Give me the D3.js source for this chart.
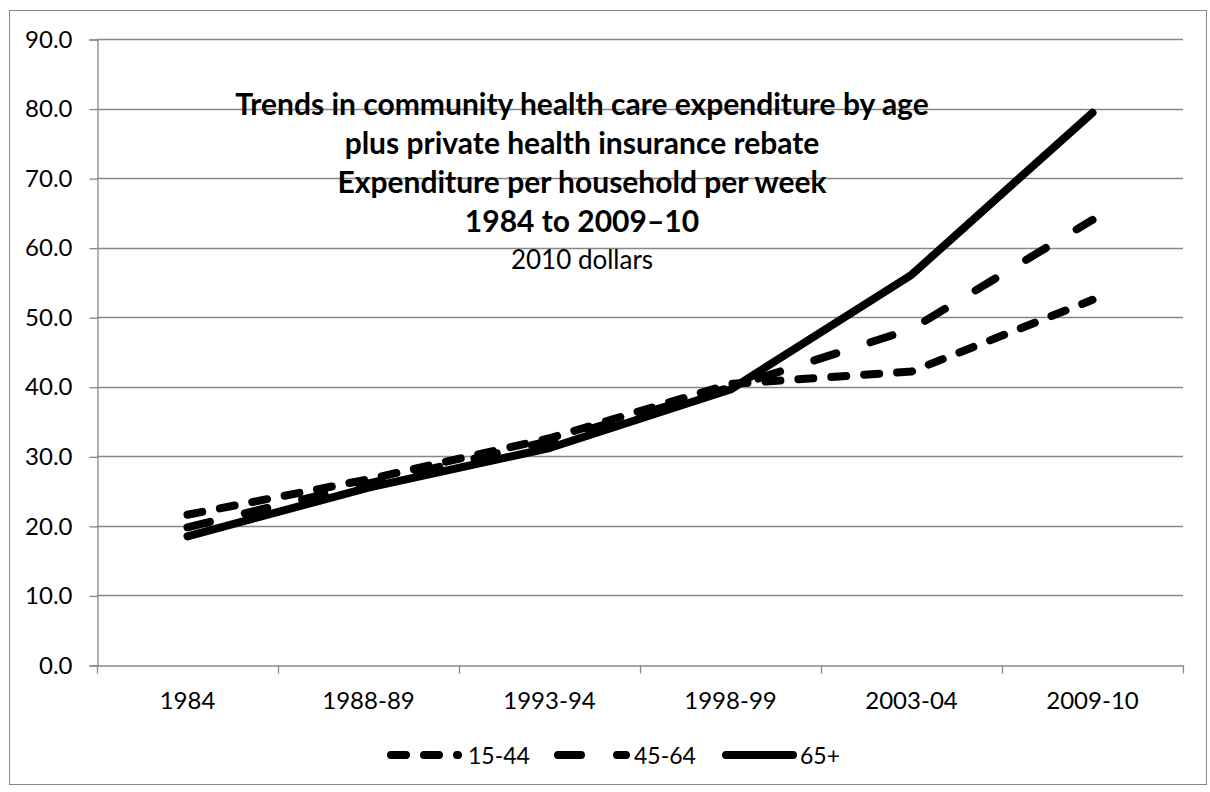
<!DOCTYPE html>
<html>
<head>
<meta charset="utf-8">
<script src="https://cdn.jsdelivr.net/npm/d3@7/dist/d3.min.js"></script>
<style>
  html, body { margin: 0; padding: 0; background: #fff; }
  svg { display: block; }
  text { font-family: Lato, "Open Sans", sans-serif; fill: #000; }
</style>
</head>
<body>
<svg id="chart" width="1210" height="792"></svg>
<script>
// Survey periods
const periods = ["1984", "1988-89", "1993-94", "1998-99", "2003-04", "2009-10"];

// Community health care expenditure per household per week (2010 dollars)
const age15to44 = [21.6, 26.7, 32.6, 40.4, 42.2, 52.5];
const age45to64 = [19.8, 26.1, 32.2, 39.9, 48.3, 64.0];
const age65plus = [18.5, 25.5, 31.2, 39.6, 56.1, 79.4];

const seriesNames = ["15-44", "45-64", "65+"];
const yTicks = [0, 10, 20, 30, 40, 50, 60, 70, 80, 90];

const titleLines = [
  "Trends in community health care expenditure by age",
  "plus private health insurance rebate",
  "Expenditure per household per week",
  "1984 to 2009\u201310"
];
const subtitle = "2010 dollars";

const series = [
  { name: seriesNames[0], values: age15to44, dash: "15,18" },
  { name: seriesNames[1], values: age45to64, dash: "23,36" },
  { name: seriesNames[2], values: age65plus, dash: null }
];

const svg = d3.select("#chart");
const gridColor = "#878787";
const labelFont = "Lato, 'Open Sans', sans-serif";

// chart frame
svg.append("rect")
  .attr("x", 9.5).attr("y", 10.5)
  .attr("width", 1197).attr("height", 774)
  .attr("fill", "#fff").attr("stroke", gridColor).attr("stroke-width", 1);

const plot = { left: 97, right: 1183, top: 39, bottom: 665 };

const x = d3.scaleBand().domain(periods).range([plot.left, plot.right]).padding(0);
const y = d3.scaleLinear().domain([0, 90]).range([plot.bottom, plot.top]);
const cx = d => x(d) + x.bandwidth() / 2;

// horizontal gridlines
svg.append("g")
  .selectAll("line")
  .data(yTicks.filter(t => t > 0))
  .join("line")
  .attr("x1", plot.left).attr("x2", plot.right)
  .attr("y1", d => Math.round(y(d)) + 0.5).attr("y2", d => Math.round(y(d)) + 0.5)
  .attr("stroke", gridColor).attr("stroke-width", 1.3);

// y axis
const yAxis = svg.append("g")
  .attr("transform", `translate(${plot.left + 0.5},0.5)`)
  .call(d3.axisLeft(y).tickValues(yTicks).tickFormat(d3.format(".1f")).tickSize(8).tickPadding(17));
yAxis.select(".domain").attr("stroke", gridColor).attr("stroke-width", 1.3);
yAxis.selectAll(".tick line").attr("stroke", gridColor).attr("stroke-width", 1.3);
yAxis.selectAll(".tick text")
  .attr("font-family", labelFont)
  .attr("font-size", 24).attr("fill", "#000");

// x axis: labels centred in each category, tick marks on category boundaries
const xAxis = svg.append("g")
  .attr("transform", `translate(0,${Math.round(plot.bottom) + 0.5})`)
  .call(d3.axisBottom(x).tickSize(0).tickPadding(26));
xAxis.select(".domain").attr("stroke", gridColor).attr("stroke-width", 1.3);
xAxis.selectAll(".tick text")
  .attr("font-family", labelFont)
  .attr("font-size", 24).attr("fill", "#000");

const boundaries = periods.map(p => x(p)).concat([x.range()[1]]);
xAxis.selectAll("line.bound")
  .data(boundaries)
  .join("line")
  .attr("class", "bound")
  .attr("x1", d => Math.round(d) + 0.5).attr("x2", d => Math.round(d) + 0.5)
  .attr("y1", 0).attr("y2", 8)
  .attr("stroke", gridColor).attr("stroke-width", 1.3);

// series lines
const line = d3.line()
  .x((d, i) => cx(periods[i]))
  .y(d => y(d));

svg.append("g")
  .selectAll("path")
  .data(series)
  .join("path")
  .attr("d", d => line(d.values))
  .attr("fill", "none")
  .attr("stroke", "#000")
  .attr("stroke-width", 8)
  .attr("stroke-linecap", "round")
  .attr("stroke-linejoin", "round")
  .attr("stroke-dasharray", d => d.dash);

// title block
const title = svg.append("g").attr("text-anchor", "middle");
title.selectAll("text.t")
  .data(titleLines)
  .join("text")
  .attr("class", "t")
  .attr("x", 582)
  .attr("y", (d, i) => 115 + i * 39)
  .attr("font-size", 30)
  .attr("font-weight", "bold")
  .text(d => d);
title.append("text")
  .attr("x", 582).attr("y", 269)
  .attr("font-size", 26)
  .text(subtitle);

// legend
const legendItems = [
  { s: series[0], x1: 391, x2: 458, tx: 468 },
  { s: series[1], x1: 558, x2: 626, tx: 634 },
  { s: series[2], x1: 726, x2: 793, tx: 800 }
];
const legend = svg.append("g");
const li = legend.selectAll("g").data(legendItems).join("g");
li.append("line")
  .attr("x1", d => d.x1).attr("x2", d => d.x2)
  .attr("y1", 755).attr("y2", 755)
  .attr("stroke", "#000").attr("stroke-width", 8)
  .attr("stroke-linecap", "round")
  .attr("stroke-dasharray", d => d.s.dash);
li.append("text")
  .attr("x", d => d.tx).attr("y", 764)
  .attr("font-size", 23)
  .text(d => d.s.name);
</script>
</body>
</html>
